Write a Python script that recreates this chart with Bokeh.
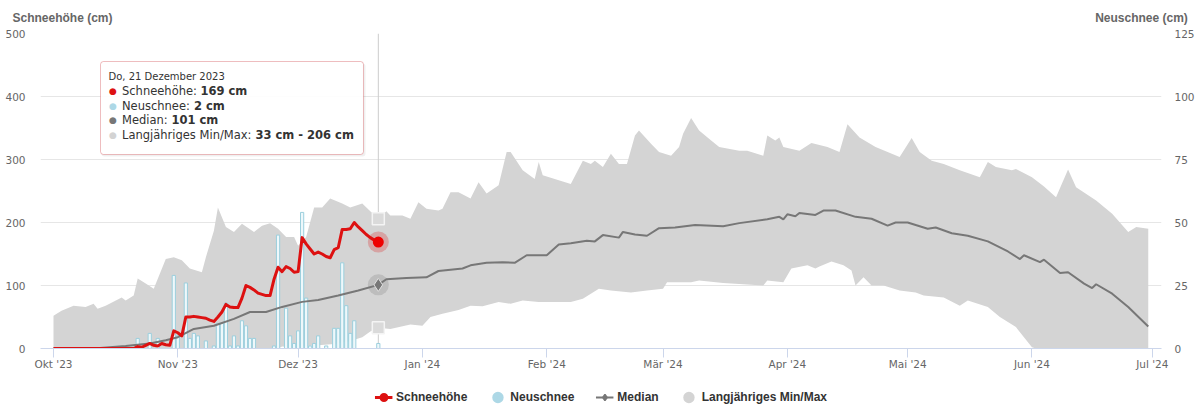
import pandas as pd
from bokeh.plotting import figure
from bokeh.layouts import column
from bokeh.models import (Range1d, LinearAxis, FixedTicker, Label, Span, BoxAnnotation,
                          Legend, LegendItem)
from bokeh.embed import file_html
from bokeh.resources import INLINE

# ------------------------------------------------------------------ data
season_start = pd.Timestamp("2023-10-01")

# Schneehöhe (cm), daily from 1 Oct 2023 to 21 Dec 2023
snow_depth = [0, 0, 0, 0, 0, 0, 0, 0, 0, 0,
              0, 0, 0, 0, 0, 0, 0, 0, 0, 0,
              0, 3, 2, 5, 8, 5, 4, 8, 6, 5,
              28, 25, 20, 50, 50, 51, 50, 49, 48, 45,
              43, 50, 58, 70, 66, 65, 65, 80, 100, 97,
              93, 88, 86, 84, 84, 110, 129, 122, 130, 127,
              121, 122, 176, 166, 158, 150, 153, 150, 146, 144,
              157, 160, 189, 189, 190, 200, 193, 187, 181, 176,
              172, 169]

# Neuschnee (cm), daily, same dates
new_snow = [0, 0, 0, 0, 0, 0, 0, 0, 0, 0,
            0, 0, 0, 0, 0, 0, 0, 0, 0, 0,
            0, 4, 0, 0, 6, 0, 4, 0, 0, 0,
            29, 5, 0, 26, 4, 6, 5, 0, 3, 0,
            1, 10, 10, 18, 1, 5, 1, 11, 9, 4,
            4, 0, 0, 0, 0, 1, 45, 0, 16, 5,
            2, 7, 54, 20, 1, 2, 5, 0, 1, 0,
            8, 8, 34, 17, 6, 11, 0, 0, 0, 0,
            0, 2]

# Median (days since 1 Oct 2023, cm)
median_day = [0, 10, 14, 18, 21, 24, 28, 31, 35, 40, 45, 49, 53, 57, 62, 66, 71, 76, 81,
              83, 88, 93, 96, 102, 104, 108, 112, 115, 118, 123, 126, 129, 133, 135, 137,
              141, 142, 145, 148, 151, 155, 160, 167, 171, 178, 181, 182, 183, 185, 186,
              190, 192, 195, 200, 204, 208, 210, 213, 216, 218, 220, 224, 228, 233, 238,
              241, 242, 246, 247, 251, 253, 257, 259, 260, 264, 268, 273]
median_cm = [0, 0, 2, 4, 6, 8, 13, 18, 31, 36, 47, 58, 58, 66, 74, 77, 84, 92, 101,
             110, 112, 113, 123, 127, 132, 136, 137, 136, 148, 148, 165, 167, 171, 170, 180,
             176, 185, 181, 179, 191, 192, 196, 194, 199, 205, 209, 205, 213, 210, 215,
             212, 219, 219, 209, 206, 195, 200, 200, 194, 190, 192, 183, 179, 170, 154,
             142, 148, 137, 141, 120, 121, 103, 96, 102, 87, 66, 35]

# Langjähriges Maximum (days since 1 Oct 2023, cm)
max_day = [0, 2, 5, 8, 10, 11, 13, 17, 18, 20, 21, 23, 25, 28, 30, 32, 34, 37, 38, 40,
           41, 43, 45, 47, 50, 52, 54, 56, 58, 60, 61, 63, 65, 67, 69, 72, 74, 77, 79, 81,
           83, 84, 87, 89, 91, 93, 96, 97, 99, 101, 104, 106, 108, 111, 113, 114, 117, 120,
           121, 122, 126, 129, 132, 134, 135, 137, 139, 141, 143, 145, 146, 149, 151, 154,
           156, 157, 159, 161, 164, 166, 171, 173, 177, 178, 180, 181, 182, 186, 189, 193,
           196, 198, 201, 205, 208, 211, 214, 216, 219, 222, 226, 231, 233, 235, 239, 240,
           244, 247, 250, 253, 255, 260, 264, 268, 270, 273]
max_cm = [52, 60, 68, 66, 71, 63, 68, 81, 76, 84, 111, 103, 95, 142, 145, 140, 127, 121, 145, 187,
          224, 193, 185, 198, 185, 195, 199, 190, 177, 177, 163, 177, 224, 224, 238, 230, 224, 230, 218, 206,
          218, 211, 211, 206, 232, 222, 219, 222, 248, 248, 238, 264, 246, 259, 312, 312, 283, 269,
          296, 275, 267, 261, 298, 293, 298, 288, 309, 293, 293, 338, 346, 325, 312, 306,
          320, 341, 366, 346, 330, 320, 314, 314, 306, 338, 330, 335, 320, 314, 326, 320,
          312, 356, 335, 320, 312, 304, 334, 312, 298, 293, 283, 272, 296, 288, 283, 285,
          272, 257, 240, 284, 256, 235, 214, 185, 193, 190]

# Langjähriges Minimum (days since 1 Oct 2023, cm)
min_day = [0, 56, 57, 60, 63, 66, 70, 74, 77, 79, 81, 84, 89, 92, 94, 97, 101, 104, 107, 111,
           114, 117, 121, 129, 132, 136, 139, 144, 148, 152, 153, 159, 161, 167, 177, 178, 182,
           184, 188, 190, 191, 194, 197, 199, 200, 202, 204, 207, 211, 215, 217, 222, 226, 228,
           233, 236, 240, 242, 244, 245, 273]
min_cm = [0, 0, 3, 2, 4, 5, 7, 12, 18, 27, 33, 31, 38, 36, 50, 55, 61, 68, 67, 74,
          71, 76, 74, 74, 79, 95, 92, 89, 92, 95, 105, 105, 108, 104, 100, 108, 105,
          127, 132, 127, 130, 138, 132, 124, 100, 113, 100, 100, 92, 89, 84, 81, 68, 76,
          66, 50, 34, 18, 2, 0, 0]

month_starts = ["2023-10-01", "2023-11-01", "2023-12-01", "2024-01-01", "2024-02-01",
                "2024-03-01", "2024-04-01", "2024-05-01", "2024-06-01", "2024-07-01"]
month_labels = ["Okt '23", "Nov '23", "Dez '23", "Jan '24", "Feb '24",
                "Mär '24", "Apr '24", "Mai '24", "Jun '24", "Jul '24"]

left_ticks = [0, 100, 200, 300, 400, 500]
right_ticks = [0, 25, 50, 75, 100, 125]
left_title = "Schneehöhe (cm)"
right_title = "Neuschnee (cm)"
series_names = ["Schneehöhe", "Neuschnee", "Median", "Langjähriges Min/Max"]

weekday_de = ["Mo", "Di", "Mi", "Do", "Fr", "Sa", "So"]
month_de = ["Januar", "Februar", "März", "April", "Mai", "Juni", "Juli", "August",
            "September", "Oktober", "November", "Dezember"]

# ------------------------------------------------------------------ styling / layout
RED = "#dd1111"
BLUE = "#add8e6"
GREY = "#777777"
AREA = "#d4d4d4"
W, H_MAIN, H_LEG = 1201, 380, 34
FRAME_L, FRAME_R, FRAME_T, FRAME_B = 40, 1161, 33, 348
X0, X1 = -3.24, 276.3

def dx(px):
    return round(X0 + (px - FRAME_L) * (X1 - X0) / (FRAME_R - FRAME_L), 3)

def dy(py):
    return 500.0 * (FRAME_B - py) / (FRAME_B - FRAME_T)

def sx(px):
    return px - FRAME_L

def sy(py):
    return FRAME_B - py

days = list(range(len(snow_depth)))
tick_days = [int((pd.Timestamp(m) - season_start).days) for m in month_starts]

p = figure(width=W, height=H_MAIN, output_backend="svg", toolbar_location=None,
           x_range=Range1d(X0, X1), y_range=Range1d(0, 500),
           min_border_left=FRAME_L, min_border_right=W - FRAME_R,
           min_border_top=FRAME_T, min_border_bottom=H_MAIN - FRAME_B,
           background_fill_color="white", border_fill_color="white",
           outline_line_color=None)
p.extra_y_ranges = {"ns": Range1d(0, 125)}

def style_value_axis(ax, standoff):
    ax.axis_line_color = None
    ax.major_tick_line_color = None
    ax.minor_tick_line_color = None
    ax.major_tick_out = 0
    ax.major_tick_in = 0
    ax.minor_tick_out = 0
    ax.major_label_standoff = standoff
    ax.major_label_text_font = "DejaVu Sans"
    ax.major_label_text_font_size = "10.5px"
    ax.major_label_text_color = "#666666"

# x axis (bottom)
xa = p.xaxis[0]
xa.ticker = FixedTicker(ticks=tick_days)
xa.major_label_overrides = {d: lab for d, lab in zip(tick_days, month_labels)}
xa.axis_line_color = "#ccd6eb"
xa.major_tick_line_color = "#ccd6eb"
xa.major_tick_out = 9
xa.major_tick_in = 0
xa.minor_tick_line_color = None
xa.minor_tick_out = 0
xa.major_label_standoff = 0
xa.major_label_text_font = "DejaVu Sans"
xa.major_label_text_font_size = "10.5px"
xa.major_label_text_color = "#666666"

# left axis
ya = p.yaxis[0]
ya.ticker = FixedTicker(ticks=left_ticks)
style_value_axis(ya, 15)

# right axis
ra = LinearAxis(y_range_name="ns", ticker=FixedTicker(ticks=right_ticks))
style_value_axis(ra, 13)
p.add_layout(ra, "right")

# axis titles, drawn as labels of a tick-less axis above the plot
title_ticks = [dx(62), dx(1141)]
ta = LinearAxis(ticker=FixedTicker(ticks=title_ticks))
ta.major_label_overrides = {title_ticks[0]: left_title, title_ticks[1]: right_title}
ta.axis_line_color = None
ta.major_tick_line_color = None
ta.minor_tick_line_color = None
ta.major_tick_out = 0
ta.minor_tick_out = 0
ta.major_label_standoff = 9
ta.major_label_text_font = "Liberation Sans"
ta.major_label_text_font_style = "bold"
ta.major_label_text_font_size = "12px"
ta.major_label_text_color = "#666666"
p.add_layout(ta, "above")

p.xgrid.visible = False
p.ygrid.grid_line_color = "#e6e6e6"

# crosshair at the hovered day
hover_day = days[-1]
p.add_layout(Span(location=hover_day, dimension="height", line_color="#cccccc",
                  line_width=1, level="underlay"))

# min/max range
poly_x = max_day + min_day[::-1]
poly_y = max_cm + min_cm[::-1]
p.patch(poly_x, poly_y, fill_color=AREA, line_color=None)

# new snow bars
bar_x = [d for d, v in zip(days, new_snow) if v > 0]
bar_top = [v for v in new_snow if v > 0]
p.vbar(x=bar_x, top=bar_top, bottom=0, width=0.8, y_range_name="ns",
       fill_color="#eef8fb", line_color="#9ccfdd", line_width=1)

# median
p.line(median_day, median_cm, line_color=GREY, line_width=2)

# snow depth
p.line(days, snow_depth, line_color=RED, line_width=3, line_join="round")

# hover markers
med_lookup = dict(zip(median_day, median_cm))
max_lookup = dict(zip(max_day, max_cm))
min_lookup = dict(zip(min_day, min_cm))
h_snow = snow_depth[-1]
h_new = new_snow[-1]
h_med = med_lookup[hover_day]
h_max = max_lookup[hover_day]
h_min = min_lookup[hover_day]

p.scatter([hover_day], [h_max], marker="square", size=12, fill_color="#dadada",
          line_color="#f4f4f4", line_width=1.5)
p.scatter([hover_day], [h_min], marker="square", size=12, fill_color="#dadada",
          line_color="#f4f4f4", line_width=1.5)
p.scatter([hover_day], [h_med], marker="circle", size=21, fill_color=GREY,
          fill_alpha=0.25, line_color=None)
p.scatter([hover_day], [h_med], marker="diamond", size=13, fill_color=GREY,
          line_color="#e0e0e0", line_width=1)
p.scatter([hover_day], [h_snow], marker="circle", size=21, fill_color=RED,
          fill_alpha=0.25, line_color=None)
p.scatter([hover_day], [h_snow], marker="circle", size=11, fill_color="#ee0000",
          line_color=None)

# tooltip
p.add_layout(BoxAnnotation(left=dx(101), right=dx(365), top=dy(63), bottom=dy(156),
                           fill_color="black", fill_alpha=0.06, line_color=None,
                           border_radius=3))
p.add_layout(BoxAnnotation(left=dx(100), right=dx(363), top=dy(61), bottom=dy(154),
                           fill_color="white", fill_alpha=0.95, line_color="#c8262c",
                           line_width=1, border_radius=3))

hd = season_start + pd.Timedelta(days=hover_day)
date_txt = f"{weekday_de[hd.weekday()]}, {hd.day} {month_de[hd.month - 1]} {hd.year}"

def tlabel(px, py, text, color="#333333", bold=False, size="11.5px"):
    p.add_layout(Label(x=sx(px), y=sy(py), x_units="screen", y_units="screen",
                       text=text, text_font="DejaVu Sans",
                       text_font_style="bold" if bold else "normal",
                       text_font_size=size, text_color=color,
                       text_baseline="middle", text_align="left"))

tlabel(108, 75.5, date_txt, size="10px")
rows = [
    (90, RED, series_names[0] + ":", f"{h_snow} cm", 200),
    (105, BLUE, series_names[1] + ":", f"{h_new} cm", 193.5),
    (119.5, GREY, series_names[2] + ":", f"{h_med} cm", 171),
    (134.5, "#d3d3d3", series_names[3] + ":", f"{h_min} cm - {h_max} cm", 255),
]
for ry, col, name, val, vx in rows:
    tlabel(108.5, ry, "●", color=col, size="9px")
    tlabel(121.5, ry, name)
    tlabel(vx, ry, val, bold=True)

# ------------------------------------------------------------------ legend strip
lg = figure(width=W, height=H_LEG, output_backend="svg", toolbar_location=None,
            x_range=Range1d(0, 1), y_range=Range1d(0, 1),
            x_axis_location=None, y_axis_location=None,
            min_border=0, min_border_left=0, min_border_right=0,
            min_border_top=0, min_border_bottom=0,
            background_fill_color="white", border_fill_color="white",
            outline_line_color=None)
lg.grid.visible = False
nan = float("nan")
l_snow = lg.line([nan, nan], [nan, nan], line_color=RED, line_width=3)
l_snow_dot = lg.scatter([nan], [nan], marker="circle", size=6, fill_color=RED,
                        line_color=RED, line_width=2.5)
l_blue = lg.scatter([nan], [nan], marker="circle", size=6, fill_color=BLUE,
                    line_color=BLUE, line_width=5)
l_med = lg.line([nan, nan], [nan, nan], line_color=GREY, line_width=2)
l_med_dia = lg.scatter([nan], [nan], marker="diamond", size=6, fill_color=GREY,
                       line_color=GREY, line_width=1.5)
l_area = lg.scatter([nan], [nan], marker="circle", size=6, fill_color=AREA,
                    line_color=AREA, line_width=5)

legend = Legend(items=[
    LegendItem(label=series_names[0], renderers=[l_snow, l_snow_dot]),
    LegendItem(label=series_names[1], renderers=[l_blue]),
    LegendItem(label=series_names[2], renderers=[l_med, l_med_dia]),
    LegendItem(label=series_names[3], renderers=[l_area]),
], orientation="horizontal", location="center",
    glyph_width=18, glyph_height=16, label_standoff=4, spacing=21,
    padding=0, margin=0, border_line_color=None, background_fill_alpha=0,
    label_text_font="Liberation Sans", label_text_font_style="bold",
    label_text_font_size="12px", label_text_color="#333333")
lg.add_layout(legend, "center")

layout = column(p, lg, spacing=0)
open("out.html", "w").write(file_html(layout, INLINE))
